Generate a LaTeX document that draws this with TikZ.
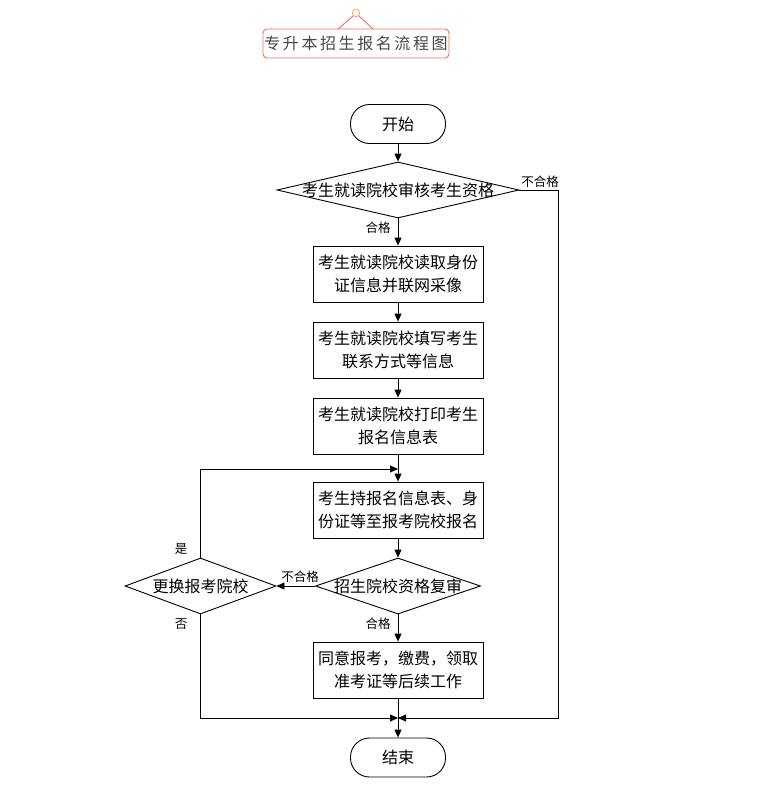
\documentclass[tikz,border=0pt]{standalone}
\usepackage{fontspec}
\newfontfamily\cjk{Noto Sans CJK SC}
\usetikzlibrary{shapes.geometric,arrows.meta}
\definecolor{ttlred}{RGB}{240,110,85}
\definecolor{ttlorange}{RGB}{250,175,95}
\definecolor{ttlgray}{RGB}{70,70,70}
\newcommand{\gap}{\hspace{2.6pt}}
\tikzset{
  txt/.style={font=\cjk\fontsize{16}{23}\selectfont},
  lbl/.style={font=\cjk\fontsize{12.5}{14}\selectfont, inner sep=0pt},
  terminal/.style={draw, line width=0.9pt, rounded corners=19pt, minimum width=95pt, minimum height=39pt, inner sep=0pt, txt},
  procbox/.style={draw, line width=0.9pt, minimum width=170pt, minimum height=56pt, inner sep=0pt, align=center, txt},
  decision/.style={draw, line width=0.9pt, diamond, inner sep=0pt, minimum height=56pt},
  conn/.style={line width=0.9pt, -{Triangle[length=8pt,width=7pt]}},
  plain/.style={line width=0.9pt}
}
\begin{document}
\begin{tikzpicture}[x=1pt,y=-1pt]
\useasboundingbox (0,0) rectangle (776,801);
% title
\node[draw=ttlred, line width=0.9pt, rounded corners=4pt, minimum width=186pt, minimum height=29pt, inner sep=0pt, text=ttlgray, font=\cjk\fontsize{16}{18}\selectfont] (title) at (356,43.5) {专\gap 升\gap 本\gap 招\gap 生\gap 报\gap 名\gap 流\gap 程\gap 图};
\node[draw=ttlorange, line width=0.9pt, circle, minimum size=7.5pt, inner sep=0pt, fill=white] (knob) at (356,13) {};
\coordinate (tl) at (338,29);
\coordinate (tr) at (373,29);
\draw[ttlred, line width=0.9pt] (tl) -- (knob.225);
\draw[ttlred, line width=0.9pt] (tr) -- (knob.-45);

% nodes
\node[terminal] (start) at (398,124) {开始};
\node[decision, minimum width=242pt, label={[txt]center:考生就读院校审核考生资格}] (d1) at (398,190) {};
\node[procbox] (b1) at (398,274) {考生就读院校读取身份\\证信息并联网采像};
\node[procbox] (b2) at (398,350) {考生就读院校填写考生\\联系方式等信息};
\node[procbox] (b3) at (398,426) {考生就读院校打印考生\\报名信息表};
\node[procbox] (b4) at (398,510) {考生持报名信息表、身\\份证等至报考院校报名};
\node[decision, minimum width=165pt, label={[txt]center:招生院校资格复审}] (d2) at (398,586) {};
\node[decision, minimum width=151pt, label={[txt]center:更换报考院校}] (d3) at (200.5,586) {};
\node[procbox] (b5) at (398,670) {同意报考，缴费，领取\\准考证等后续工作};
\node[terminal] (end) at (398,757.5) {结束};

\coordinate (j1) at (398,469);
\coordinate (j2) at (398,718);
\coordinate (rr) at (558,190);

% labels
\node[lbl] (l1) at (540,182) {不合格};
\node[lbl] (l2) at (378,228) {合格};
\node[lbl] (l3) at (300,577) {不合格};
\node[lbl] (l4) at (378,624) {合格};
\node[lbl] (l5) at (181,549) {是};
\node[lbl] (l6) at (181,624) {否};

% connectors
\draw[conn] (start) -- (d1);
\draw[conn] (d1) -- (b1);
\draw[conn] (b1) -- (b2);
\draw[conn] (b2) -- (b3);
\draw[conn] (b3) -- (b4);
\draw[conn] (b4) -- (d2);
\draw[conn] (d2) -- (b5);
\draw[conn] (b5) -- (end);
\draw[conn] (d2.west) -- (d3.east);
\draw[conn] (d3.north) |- (j1);
\draw[conn] (d3.south) |- (j2);
\draw[conn] (d1.east) -- (rr) |- (j2);
\end{tikzpicture}
\end{document}
